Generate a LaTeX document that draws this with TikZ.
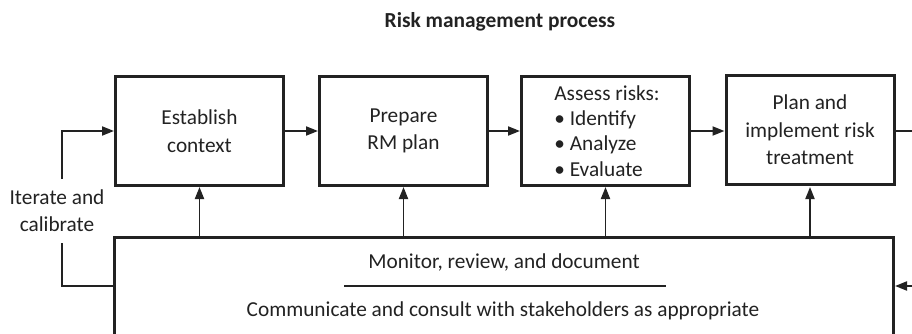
\documentclass[tikz,border=0pt]{standalone}
\usepackage{fontspec}
\setmainfont{Carlito}
\usetikzlibrary{arrows.meta}
\definecolor{ink}{HTML}{222222}
\begin{document}
\begin{tikzpicture}[x=1pt,y=-1pt,
  procbox/.style={draw=ink,line width=3pt,minimum width=168pt,minimum height=109pt,inner sep=0pt,align=center,font=\fontsize{21.3}{27.5}\selectfont,text=ink},
  conn/.style={draw=ink,line width=1.9pt},
  arr/.style={conn,-{Triangle[length=12pt,width=9pt]}},
  lbl/.style={inner sep=0pt,text=ink,font=\fontsize{21.3}{27}\selectfont,align=center}]
\clip (0,0) rectangle (912,334);
\node[inner sep=0pt,text=ink,font=\fontsize{21.4}{24}\selectfont\bfseries] (title) at (500,22) {Risk management process};
\node[procbox] (b1) at (199.5,131) {Establish\\context};
\node[procbox] (b2) at (403.5,131) {Prepare\\RM plan};
\node[procbox] (b3) at (605.5,131) {};
\node[lbl,align=left,font=\fontsize{21.3}{25.3}\selectfont] (b3t) at (607,131) {Assess risks:\\\textbullet\ Identify\\\textbullet\ Analyze\\\textbullet\ Evaluate};
\node[procbox] (b4) at (810,130) {Plan and\\implement risk\\treatment};
\node[draw=ink,line width=3pt,minimum width=779pt,minimum height=140pt,inner sep=0pt] (bot) at (504,307.5) {};
\node[lbl] (mon) at (504,262) {Monitor, review, and document};
\node[lbl] (com) at (503,311) {Communicate and consult with stakeholders as appropriate};
\node[lbl] (it) at (57,211) {Iterate and\\calibrate};
\coordinate (s1) at (344,286);
\coordinate (s2) at (666,286);
\draw[conn,line width=1.5pt] (s1) -- (s2);
% forward arrows
\draw[arr] (b1.east) -- (b2.west);
\draw[arr] (b2.east) -- (b3.west);
\draw[arr] (b3.east) -- (b4.west |- b3.east);
% up arrows
\draw[arr] (bot.north -| b1.south) -- (b1.south);
\draw[arr] (bot.north -| b2.south) -- (b2.south);
\draw[arr] (bot.north -| b3.south) -- (b3.south);
\draw[arr] (bot.north -| b4.south) -- (b4.south |- b3.south);
% loop
\coordinate (lb) at (62,286);
\coordinate (la) at (62,243);
\coordinate (lc) at (62,179);
\draw[conn] (bot.west |- lb) -- (lb) -- (la);
\draw[arr] (lc) -- (lc |- b1.west) -- (b1.west);
% right side
\coordinate (r1) at (914,131);
\coordinate (r2) at (914,286);
\draw[conn] (b4.east |- r1) -- (r1);
\draw[arr] (r2) -- (bot.east |- r2);
\end{tikzpicture}
\end{document}
